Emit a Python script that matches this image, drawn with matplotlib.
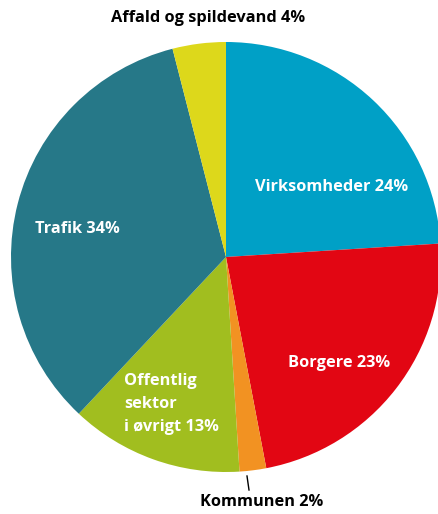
import matplotlib.pyplot as plt

plt.rcParams['font.family'] = ['Open Sans', 'DejaVu Sans']

labels = ['Virksomheder', 'Borgere', 'Kommunen', 'Offentlig\nsektor\ni øvrigt', 'Trafik', 'Affald og spildevand']
shares = [24, 23, 2, 13, 34, 4]
colors = ['#00A0C6', '#E20613', '#F29222', '#A1BE1F', '#267888', '#DDD81B']

W, H = 438, 514
fig = plt.figure(figsize=(W / 100, H / 100), dpi=100)
ax = fig.add_axes([0, 0, 1, 1])

cx, cy, r = 226, H - 257, 215
ax.pie(shares, colors=colors, startangle=90, counterclock=False,
       center=(cx, cy), radius=r, frame=True)
ax.set_xlim(0, W)
ax.set_ylim(0, H)
ax.set_aspect('equal')
ax.axis('off')

def lab(i):
    return f'{labels[i]} {shares[i]}%'

fs = 11.8
ax.text(332, H - 187, lab(0), color='white', fontsize=fs, fontweight='bold', ha='center', va='center')
ax.text(339, H - 363, lab(1), color='white', fontsize=fs, fontweight='bold', ha='center', va='center')
ax.text(77, H - 229, lab(4), color='white', fontsize=fs, fontweight='bold', ha='center', va='center')
ax.text(124, H - 404, lab(3), color='white', fontsize=fs, fontweight='bold', ha='left', va='center',
        linespacing=1.6)
ax.text(208, H - 18, lab(5), color='black', fontsize=fs, fontweight='bold', ha='center', va='center')
ax.text(262, H - 502, lab(2), color='black', fontsize=fs, fontweight='bold', ha='center', va='center')
ax.plot([247, 249], [H - 476, H - 490], color='black', lw=1)

fig.savefig('out.png', dpi=100)
